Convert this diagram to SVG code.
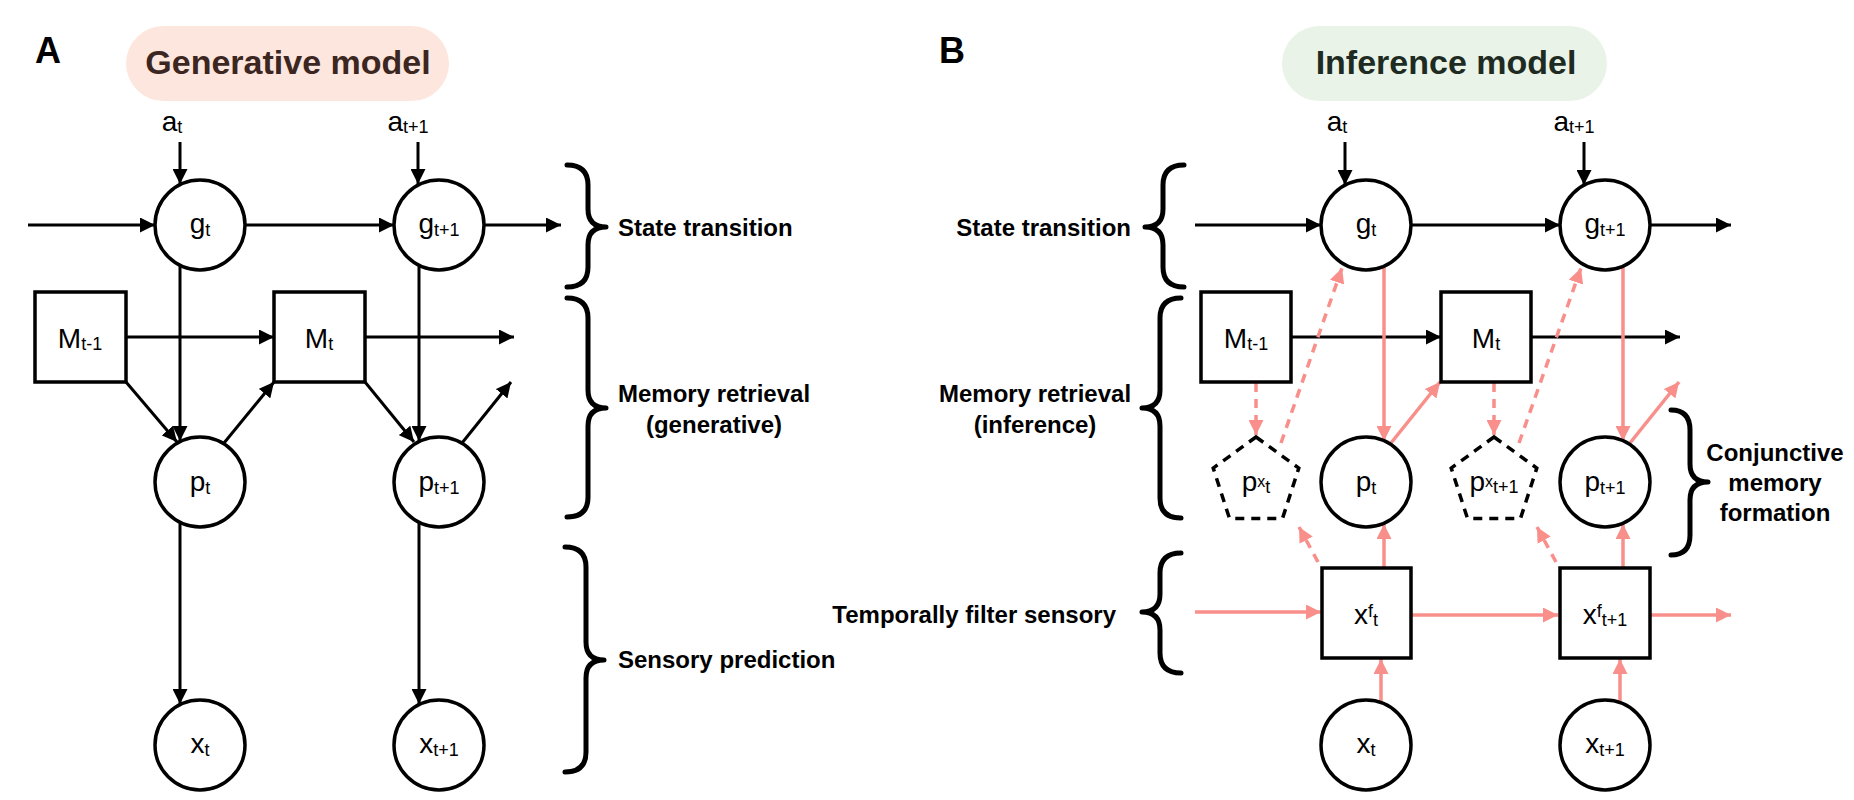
<svg xmlns="http://www.w3.org/2000/svg" width="1854" height="800" viewBox="0 0 1854 800">
<style>
text{font-family:"Liberation Sans",Arial,Helvetica,sans-serif;fill:#000}
.lbl{font-size:28px;text-anchor:middle}
.sub{font-size:18px}
.sup{font-size:16px}
.hd{font-size:24px;font-weight:bold}
.pl{font-size:36px;font-weight:bold}
.node{fill:#fff;stroke:#000;stroke-width:3.5}
.pent{fill:#fff;stroke:#000;stroke-width:3.5;stroke-dasharray:9 7}
.bk{stroke:#000;stroke-width:3;fill:none;marker-end:url(#ab)}
.pk{stroke:#f88f8b;stroke-width:3.5;fill:none;marker-end:url(#ap)}
.pkd{stroke:#f88f8b;stroke-width:3.5;fill:none;stroke-dasharray:9 7;marker-end:url(#ap)}
.brace{stroke:#000;stroke-width:5;fill:none;stroke-linecap:round;stroke-linejoin:round}
</style>
<defs>
<marker id="ab" markerUnits="userSpaceOnUse" markerWidth="16" markerHeight="15" refX="15" refY="7.5" orient="auto"><path d="M0,0 L15,7.5 L0,15 z" fill="#000"/></marker>
<marker id="ap" markerUnits="userSpaceOnUse" markerWidth="16" markerHeight="15" refX="15" refY="7.5" orient="auto"><path d="M0,0 L15,7.5 L0,15 z" fill="#f88f8b"/></marker>
</defs>

<g id="panel-A-title">
<text x="35" y="63" class="pl">A</text>
<rect x="126" y="26" width="323" height="75" rx="37.5" fill="#fde6dd"/>
<text x="288" y="74" font-size="34" font-weight="bold" text-anchor="middle" style="fill:#3b2621">Generative model</text>
</g>
<g id="panel-B-title">
<text x="939" y="63" class="pl">B</text>
<rect x="1282" y="26" width="325" height="75" rx="37.5" fill="#e9f3e7"/>
<text x="1446" y="74" font-size="34" font-weight="bold" text-anchor="middle" style="fill:#1e2b22">Inference model</text>
</g>

<g id="connectors">
<line class="bk" x1="180" y1="142" x2="180" y2="184"/>
<line class="bk" x1="418" y1="142" x2="418" y2="184"/>
<line class="bk" x1="28" y1="225" x2="155" y2="225"/>
<line class="bk" x1="245" y1="225" x2="394" y2="225"/>
<line class="bk" x1="484" y1="225" x2="561" y2="225"/>
<line class="bk" x1="180" y1="265" x2="180" y2="441"/>
<line class="bk" x1="419" y1="265" x2="419" y2="441"/>
<line class="bk" x1="126" y1="337" x2="274" y2="337"/>
<line class="bk" x1="365" y1="337" x2="514" y2="337"/>
<line class="bk" x1="126" y1="382" x2="177" y2="442"/>
<line class="bk" x1="224" y1="443" x2="274" y2="382"/>
<line class="bk" x1="365" y1="382" x2="414" y2="442"/>
<line class="bk" x1="462" y1="443" x2="511" y2="382"/>
<line class="bk" x1="180" y1="523" x2="180" y2="704"/>
<line class="bk" x1="419" y1="523" x2="419" y2="704"/>
<line class="bk" x1="1345" y1="142" x2="1345" y2="185"/>
<line class="bk" x1="1584" y1="142" x2="1584" y2="185"/>
<line class="bk" x1="1195" y1="225" x2="1321" y2="225"/>
<line class="bk" x1="1411" y1="225" x2="1560" y2="225"/>
<line class="bk" x1="1650" y1="225" x2="1731" y2="225"/>
<line class="bk" x1="1291" y1="337" x2="1441" y2="337"/>
<line class="bk" x1="1531" y1="337" x2="1680" y2="337"/>
<line class="pk" x1="1384" y1="266" x2="1384" y2="441"/>
<line class="pk" x1="1623" y1="266" x2="1623" y2="441"/>
<line class="pk" x1="1391" y1="443" x2="1440" y2="382"/>
<line class="pk" x1="1630" y1="443" x2="1679" y2="382"/>
<line class="pkd" x1="1256" y1="383" x2="1256" y2="435"/>
<line class="pkd" x1="1494" y1="383" x2="1494" y2="435"/>
<line class="pkd" x1="1281" y1="443" x2="1342" y2="268"/>
<line class="pkd" x1="1519" y1="443" x2="1581" y2="268"/>
<line class="pkd" x1="1318" y1="562" x2="1299" y2="527"/>
<line class="pkd" x1="1556" y1="562" x2="1537" y2="527"/>
<line class="pk" x1="1384" y1="568" x2="1384" y2="524"/>
<line class="pk" x1="1623" y1="568" x2="1623" y2="524"/>
<line class="pk" x1="1381" y1="702" x2="1381" y2="659"/>
<line class="pk" x1="1620" y1="702" x2="1620" y2="659"/>
<line class="pk" x1="1195" y1="612" x2="1321" y2="612"/>
<line class="pk" x1="1411" y1="615" x2="1558" y2="615"/>
<line class="pk" x1="1650" y1="615" x2="1731" y2="615"/>
</g>

<g id="braces">
<path class="brace" d="M567,165 Q588,165 588,185 L588,209 Q588,227 606,227 Q588,227 588,245 L588,267 Q588,287 567,287"/>
<path class="brace" d="M567,298 Q588,298 588,318 L588,390 Q588,408 606,408 Q588,408 588,426 L588,497 Q588,517 567,517"/>
<path class="brace" d="M565,547 Q586,547 586,567 L586,642 Q586,660 604,660 Q586,660 586,678 L586,752 Q586,772 565,772"/>
<path class="brace" d="M1184,165 Q1163,165 1163,185 L1163,209 Q1163,227 1145,227 Q1163,227 1163,245 L1163,267 Q1163,287 1184,287"/>
<path class="brace" d="M1181,298 Q1160,298 1160,318 L1160,390 Q1160,408 1142,408 Q1160,408 1160,426 L1160,498 Q1160,518 1181,518"/>
<path class="brace" d="M1181,553 Q1160,553 1160,573 L1160,594 Q1160,612 1142,612 Q1160,612 1160,630 L1160,653 Q1160,673 1181,673"/>
<path class="brace" d="M1671,410 Q1690,410 1690,430 L1690,464 Q1690,482 1708,482 Q1690,482 1690,500 L1690,535 Q1690,555 1671,555"/>
</g>

<g id="labels">
<text x="618" y="236" class="hd">State transition</text>
<text x="714" y="402" class="hd" text-anchor="middle">Memory retrieval</text>
<text x="714" y="433" class="hd" text-anchor="middle">(generative)</text>
<text x="618" y="668" class="hd">Sensory prediction</text>
<text x="1131" y="236" class="hd" text-anchor="end">State transition</text>
<text x="1035" y="402" class="hd" text-anchor="middle">Memory retrieval</text>
<text x="1035" y="433" class="hd" text-anchor="middle">(inference)</text>
<text x="1116" y="623" class="hd" text-anchor="end">Temporally filter sensory</text>
<text x="1775" y="461" class="hd" text-anchor="middle">Conjunctive</text>
<text x="1775" y="491" class="hd" text-anchor="middle">memory</text>
<text x="1775" y="521" class="hd" text-anchor="middle">formation</text>
</g>

<g id="A-a-t"><text x="172" y="131" class="lbl">a<tspan class="sub" dy="2">t</tspan></text></g>
<g id="A-a-t1"><text x="408" y="131" class="lbl">a<tspan class="sub" dy="2">t+1</tspan></text></g>
<g id="B-a-t"><text x="1337" y="131" class="lbl">a<tspan class="sub" dy="2">t</tspan></text></g>
<g id="B-a-t1"><text x="1574" y="131" class="lbl">a<tspan class="sub" dy="2">t+1</tspan></text></g>

<g id="A-g-t"><circle class="node" cx="200" cy="225" r="45"/><text x="200" y="233" class="lbl">g<tspan class="sub" dy="3">t</tspan></text></g>
<g id="A-g-t1"><circle class="node" cx="439" cy="225" r="45"/><text x="439" y="233" class="lbl">g<tspan class="sub" dy="3">t+1</tspan></text></g>
<g id="A-M-t-1"><rect class="node" x="35" y="292" width="91" height="90"/><text x="80" y="348" class="lbl">M<tspan class="sub" dy="2">t-1</tspan></text></g>
<g id="A-M-t"><rect class="node" x="274" y="292" width="91" height="90"/><text x="319" y="348" class="lbl">M<tspan class="sub" dy="2">t</tspan></text></g>
<g id="A-p-t"><circle class="node" cx="200" cy="482" r="45"/><text x="200" y="491" class="lbl">p<tspan class="sub" dy="3">t</tspan></text></g>
<g id="A-p-t1"><circle class="node" cx="439" cy="482" r="45"/><text x="439" y="491" class="lbl">p<tspan class="sub" dy="3">t+1</tspan></text></g>
<g id="A-x-t"><circle class="node" cx="200" cy="745" r="45"/><text x="200" y="753" class="lbl">x<tspan class="sub" dy="3">t</tspan></text></g>
<g id="A-x-t1"><circle class="node" cx="439" cy="745" r="45"/><text x="439" y="753" class="lbl">x<tspan class="sub" dy="3">t+1</tspan></text></g>

<g id="B-g-t"><circle class="node" cx="1366" cy="225" r="45"/><text x="1366" y="233" class="lbl">g<tspan class="sub" dy="3">t</tspan></text></g>
<g id="B-g-t1"><circle class="node" cx="1605" cy="225" r="45"/><text x="1605" y="233" class="lbl">g<tspan class="sub" dy="3">t+1</tspan></text></g>
<g id="B-M-t-1"><rect class="node" x="1201" y="292" width="90" height="90"/><text x="1246" y="348" class="lbl">M<tspan class="sub" dy="2">t-1</tspan></text></g>
<g id="B-M-t"><rect class="node" x="1441" y="292" width="90" height="90"/><text x="1486" y="348" class="lbl">M<tspan class="sub" dy="2">t</tspan></text></g>
<g id="B-px-t"><polygon class="pent" points="1256,437 1298.8,468.1 1282.5,518.4 1229.5,518.4 1213.2,468.1"/><text x="1256" y="491" class="lbl">p<tspan class="sup" dy="-4">x</tspan><tspan class="sub" dy="6">t</tspan></text></g>
<g id="B-p-t"><circle class="node" cx="1366" cy="482" r="45"/><text x="1366" y="491" class="lbl">p<tspan class="sub" dy="3">t</tspan></text></g>
<g id="B-px-t1"><polygon class="pent" points="1494,437 1536.8,468.1 1520.5,518.4 1467.5,518.4 1451.2,468.1"/><text x="1494" y="491" class="lbl">p<tspan class="sup" dy="-4">x</tspan><tspan class="sub" dy="6">t+1</tspan></text></g>
<g id="B-p-t1"><circle class="node" cx="1605" cy="482" r="45"/><text x="1605" y="491" class="lbl">p<tspan class="sub" dy="3">t+1</tspan></text></g>
<g id="B-xf-t"><rect class="node" x="1322" y="568" width="89" height="90"/><text x="1366" y="624" class="lbl">x<tspan class="sub" dy="-7">f</tspan><tspan class="sub" dy="9">t</tspan></text></g>
<g id="B-xf-t1"><rect class="node" x="1560" y="568" width="90" height="90"/><text x="1605" y="624" class="lbl">x<tspan class="sub" dy="-7">f</tspan><tspan class="sub" dy="9">t+1</tspan></text></g>
<g id="B-x-t"><circle class="node" cx="1366" cy="745" r="45"/><text x="1366" y="753" class="lbl">x<tspan class="sub" dy="3">t</tspan></text></g>
<g id="B-x-t1"><circle class="node" cx="1605" cy="745" r="45"/><text x="1605" y="753" class="lbl">x<tspan class="sub" dy="3">t+1</tspan></text></g>
</svg>
